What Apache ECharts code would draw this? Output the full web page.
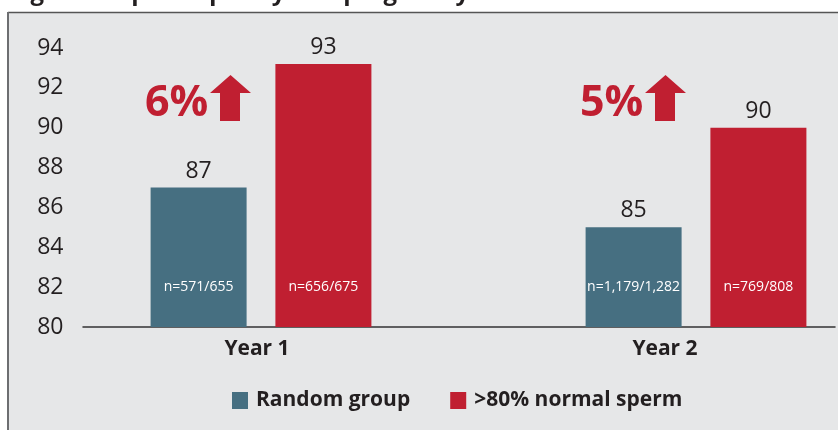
<!DOCTYPE html>
<html>
<head>
<meta charset="utf-8">
<script src="https://cdn.jsdelivr.net/npm/echarts@6/dist/echarts.min.js"></script>
<style>
html,body{margin:0;padding:0;background:#ffffff;}
#chart{width:840px;height:430px;}
</style>
</head>
<body>
<div id="chart"></div>
<script>
// ---- data ----
var categories = ['Year 1', 'Year 2'];
var seriesNames = ['Random group', '>80% normal sperm'];
var randomGroup = [87, 85];
var normalSperm = [93.2, 90];
var randomN = ['n=571/655', 'n=1,179/1,282'];
var normalN = ['n=656/675', 'n=769/808'];
var increase = ['6%', '5%'];
var yTicks = [80, 82, 84, 86, 88, 90, 92, 94];
var titleText = 'Figure 2. Sperm quality and pregnancy rates';

// ---- style ----
var BLUE = '#466f81';
var RED = '#c01f31';
var TEXT = '#231f20';
var BG = '#e6e7e8';
var FONT = "'Open Sans', 'Noto Sans', sans-serif";

var chart = echarts.init(document.getElementById('chart'), null, {renderer: 'canvas'});

function valueLabel(v) { return String(Math.round(v)); }

var option = {
  animation: false,
  backgroundColor: '#ffffff',
  textStyle: {fontFamily: FONT},
  grid: [
    {left: 43.5, width: 870, top: 48, bottom: 103, outerBoundsMode: 'none', containLabel: false},
    {left: 83, right: 5, top: 48, bottom: 103, outerBoundsMode: 'none', containLabel: false}
  ],
  xAxis: [
    {
      gridIndex: 0, type: 'category', data: categories,
      axisLine: {show: false}, axisTick: {show: false},
      axisLabel: {
        margin: 12,
        formatter: function (v, i) { return '{c' + i + '|' + v + '}'; },
        rich: {
          c0: {fontFamily: FONT, fontSize: 21, fontWeight: 'bold', color: TEXT, padding: [0, 8, 0, 0]},
          c1: {fontFamily: FONT, fontSize: 21, fontWeight: 'bold', color: TEXT, padding: [0, 62, 0, 0]}
        }
      }
    },
    {gridIndex: 0, type: 'category', data: categories, show: false},
    {
      gridIndex: 1, type: 'category', data: [''],
      axisLine: {show: true, onZero: false, lineStyle: {color: '#333333', width: 1.5}},
      axisTick: {show: false}, axisLabel: {show: false}
    }
  ],
  yAxis: [
    {
      gridIndex: 0, type: 'value', min: yTicks[0], max: yTicks[yTicks.length - 1], interval: 2,
      axisLine: {show: false}, axisTick: {show: false}, splitLine: {show: false},
      axisLabel: {margin: -20, fontFamily: FONT, fontSize: 23, color: TEXT}
    },
    {gridIndex: 1, type: 'value', min: 0, max: 1, show: false}
  ],
  legend: {
    data: seriesNames,
    left: 227, top: 385,
    itemWidth: 16, itemHeight: 17, itemGap: 40,
    icon: 'rect',
    textStyle: {fontFamily: FONT, fontSize: 21, fontWeight: 'bold', color: TEXT, padding: [0, 0, 0, 3]}
  },
  series: [
    {
      name: seriesNames[0], type: 'bar', xAxisIndex: 0, yAxisIndex: 0,
      data: randomGroup, barWidth: 96, barGap: '30%',
      itemStyle: {color: BLUE},
      label: {show: true, position: 'top', distance: 5, fontFamily: FONT, fontSize: 23, color: TEXT,
        formatter: function (p) { return valueLabel(p.value); }}
    },
    {
      name: seriesNames[1], type: 'bar', xAxisIndex: 0, yAxisIndex: 0,
      data: normalSperm, barWidth: 96, barGap: '30%',
      itemStyle: {color: RED},
      label: {show: true, position: 'top', distance: 5, fontFamily: FONT, fontSize: 23, color: TEXT,
        formatter: function (p) { return valueLabel(p.value); }}
    },
    {
      type: 'bar', xAxisIndex: 1, yAxisIndex: 0, silent: true,
      data: randomGroup, barWidth: 96, barGap: '30%',
      itemStyle: {color: 'rgba(0,0,0,0)'},
      label: {show: true, position: 'insideBottom', distance: 33, fontFamily: FONT, fontSize: 14, color: '#ffffff',
        formatter: function (p) { return randomN[p.dataIndex]; }}
    },
    {
      type: 'bar', xAxisIndex: 1, yAxisIndex: 0, silent: true,
      data: normalSperm, barWidth: 96, barGap: '30%',
      itemStyle: {color: 'rgba(0,0,0,0)'},
      label: {show: true, position: 'insideBottom', distance: 33, fontFamily: FONT, fontSize: 14, color: '#ffffff',
        formatter: function (p) { return normalN[p.dataIndex]; }}
    }
  ]
};

chart.setOption(option);

// ---- frame, title and annotations ----
var graphics = [
  {type: 'rect', z: -10, shape: {x: 8, y: 12, width: 830, height: 430}, style: {fill: BG}},
  {type: 'line', z: -9, shape: {x1: 8, y1: 12.5, x2: 838, y2: 12.5}, style: {stroke: '#555555', lineWidth: 1.5}},
  {type: 'line', z: -9, shape: {x1: 8, y1: 12, x2: 8, y2: 430}, style: {stroke: '#6d6e71', lineWidth: 2}},
  {type: 'text', z: -9, x: 10, y: 5.5, style: {text: titleText, font: "bold 24px " + FONT, fill: TEXT, textVerticalAlign: 'bottom', verticalAlign: 'bottom'}}
];

var arrowTop = chart.convertToPixel({yAxisIndex: 0}, 92.65);
categories.forEach(function (c, i) {
  var cx = chart.convertToPixel({xAxisIndex: 0}, c);
  graphics.push({
    type: 'text', z: 20, x: cx - 116, y: arrowTop + 29,
    style: {text: increase[i], font: "bold 43px " + FONT, fill: RED, verticalAlign: 'middle', textVerticalAlign: 'middle'}
  });
  var ax = cx - 51, ay = arrowTop;
  graphics.push({
    type: 'polygon', z: 20,
    shape: {points: [[ax, ay + 18], [ax + 20.5, ay], [ax + 41, ay + 18], [ax + 30, ay + 18], [ax + 30, ay + 46], [ax + 10, ay + 46], [ax + 10, ay + 18]]},
    style: {fill: RED}
  });
});

chart.setOption({graphic: graphics});
</script>
</body>
</html>
